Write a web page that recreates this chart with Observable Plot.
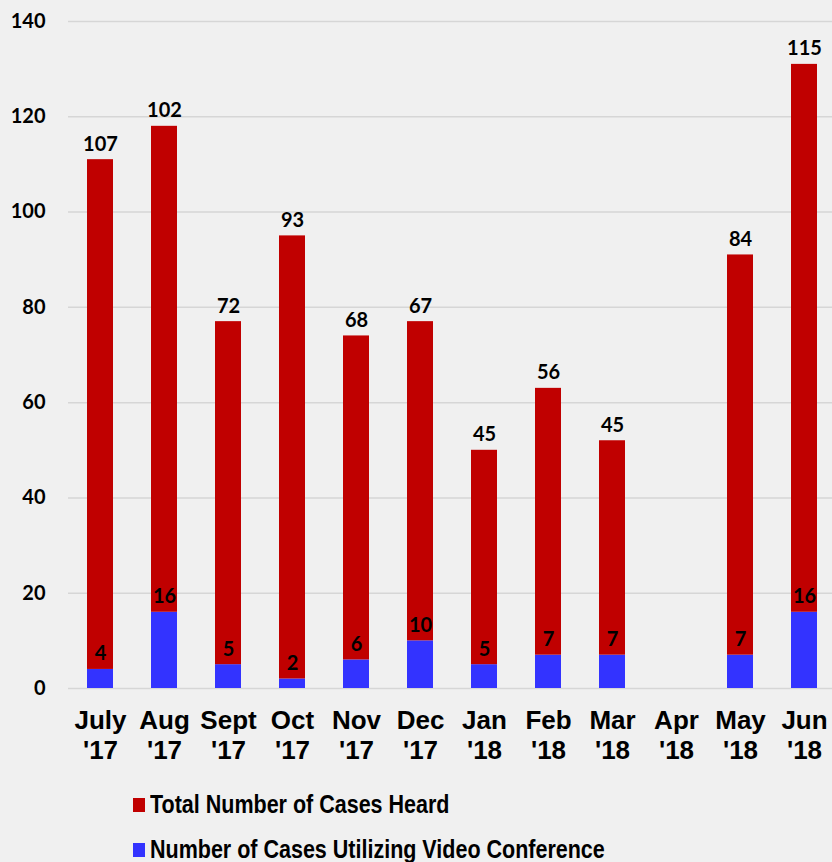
<!DOCTYPE html>
<html>
<head>
<meta charset="utf-8">
<script src="https://cdn.jsdelivr.net/npm/d3@7"></script>
<script src="https://cdn.jsdelivr.net/npm/@observablehq/plot@0.6"></script>
<style>
  html, body { margin: 0; padding: 0; background: #f0f0f0; width: 832px; height: 862px; overflow: hidden; }
  #chart svg { display: block; background: #f0f0f0; }
  .legend { position: relative; height: 87px; font-family: "Liberation Sans", Arial, sans-serif; font-weight: bold; }
  .item { position: absolute; left: 133px; display: flex; align-items: center; }
  .sw { width: 12px; height: 14px; margin-right: 5px; flex: none; }
  .lab { font-size: 25px; color: #000; display: inline-block; transform: scaleX(0.86); transform-origin: left center; white-space: nowrap; }
</style>
</head>
<body>
<div id="chart"></div>
<div class="legend" id="legend"></div>
<script>
const months = ["July","Aug","Sept","Oct","Nov","Dec","Jan","Feb","Mar","Apr","May","Jun"];
const years = ["'17","'17","'17","'17","'17","'17","'18","'18","'18","'18","'18","'18"];
const totalCases = [107,102,72,93,68,67,45,56,45,null,84,115];
const videoCases = [4,16,5,2,6,10,5,7,7,null,7,16];
const seriesNames = ["Total Number of Cases Heard","Number of Cases Utilizing Video Conference"];
const seriesColors = ["#c00000","#3333ff"];
const yTicks = [0,20,40,60,80,100,120,140];

const cats = months.map((m,i) => m + "\n" + years[i]);
const rows = [];
cats.forEach((c,i) => {
  if (videoCases[i] != null) rows.push({cat: c, series: seriesNames[1], value: videoCases[i]});
  if (totalCases[i] != null) rows.push({cat: c, series: seriesNames[0], value: totalCases[i]});
});

const plot = Plot.plot({
  width: 832,
  height: 775,
  marginTop: 21,
  marginBottom: 87,
  marginLeft: 68,
  marginRight: 0,
  x: {domain: cats, range: [68, 836], paddingInner: 0.59, paddingOuter: 0.295, label: null},
  y: {domain: [0,140], label: null},
  color: {domain: seriesNames, range: seriesColors},
  marks: [
    Plot.ruleY(yTicks, {stroke: "#d6d6d6", strokeWidth: 1.5}),
    Plot.barY(rows, {x: "cat", y: "value", fill: "series", order: seriesNames.slice().reverse()}),
    Plot.text(rows, Plot.stackY2({x: "cat", y: "value", z: "series", order: seriesNames.slice().reverse(), text: d => String(d.value), lineAnchor: "bottom", dy: -9, fontSize: 20, fontWeight: "bold", fontFamily: "Lato, sans-serif", fill: "#000"})),
    Plot.axisY({ticks: yTicks, tickSize: 0, tickPadding: 23, fontSize: 20, fontWeight: "bold", fontFamily: "Lato, sans-serif", label: null}),
    Plot.axisX({tickSize: 0, tickPadding: 19, fontSize: 26, fontWeight: "bold", fontFamily: "Liberation Sans, Arial, sans-serif", lineHeight: 1.15, label: null})
  ]
});
plot.querySelectorAll("text").forEach(t => t.setAttribute("fill", "#000"));
document.getElementById("chart").appendChild(plot);

const leg = document.getElementById("legend");
seriesNames.forEach((name, i) => {
  const it = document.createElement("div");
  it.className = "item";
  it.style.top = (i === 0 ? 15 : 60) + "px";
  const sw = document.createElement("span");
  sw.className = "sw";
  sw.style.background = seriesColors[i];
  const lab = document.createElement("span");
  lab.className = "lab";
  lab.textContent = name;
  it.appendChild(sw); it.appendChild(lab);
  leg.appendChild(it);
});
</script>
</body>
</html>
